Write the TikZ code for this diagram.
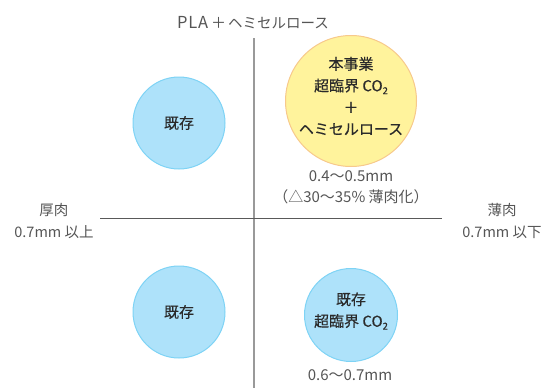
\documentclass[tikz,border=0pt]{standalone}
\usepackage{fontspec}
\setmainfont{Noto Sans CJK JP}
\newfontfamily\cjkm[FakeBold=0.35]{Noto Sans CJK JP}
\newfontfamily\cjkt[LetterSpace=5]{Noto Sans CJK JP}
\definecolor{yfill}{HTML}{FFF39C}
\definecolor{ydraw}{HTML}{F7C98C}
\definecolor{bfill}{HTML}{AEE2FA}
\definecolor{bdraw}{HTML}{7ED3F5}
\definecolor{txt}{HTML}{2A2A2A}
\definecolor{lbl}{HTML}{555555}
\newcommand{\cotwo}{CO\raisebox{-0.35ex}{\fontsize{9.5}{9.5}\selectfont 2}}
\tikzset{
  ybub/.style={circle, fill=yfill, draw=ydraw, line width=1pt, inner sep=0pt},
  bbub/.style={circle, fill=bfill, draw=bdraw, line width=1pt, inner sep=0pt},
  lab/.style={text=lbl, align=center, inner sep=0pt, font=\fontsize{15}{21}\selectfont},
  sidelab/.style={text=lbl, align=center, inner sep=0pt, font=\fontsize{14.5}{22}\selectfont},
  ctext/.style={text=txt, align=center, inner sep=0pt, font=\cjkm\fontsize{15}{21.7}\selectfont},
}
\begin{document}
\begin{tikzpicture}[x=1pt,y=-1pt]
\useasboundingbox (0,0) rectangle (543,388);
% axes
\coordinate (vtop) at (254,38);
\coordinate (vbot) at (254,388);
\coordinate (hl) at (100,218);
\coordinate (hr) at (442,218);
\draw[color=black!40, line width=1.5pt] (vtop) -- (vbot);
\draw[color=black!65, line width=1pt] (hl) -- (hr);
% title
\node[text=lbl, inner sep=0pt, font=\fontsize{15}{18}\selectfont] (title) at (253,23) {{\cjkt\fontsize{16.5}{18}\selectfont PLA}\hspace{3pt}＋\hspace{2pt}{\fontsize{14.5}{18}\selectfont ヘミセルロース}};
% circles
\node[ybub, minimum size=131pt] (yc) at (351,101) {};
\node[ctext] (yt) at (351,96) {本事業\\超臨界 \cotwo\\＋\\ヘミセルロース};
\node[bbub, minimum size=92pt] (tl) at (179,123) {};
\node[ctext] (tlt) at (179,123) {既存};
\node[bbub, minimum size=92pt] (bl) at (179,312) {};
\node[ctext] (blt) at (179,312) {既存};
\node[bbub, minimum size=93pt] (br) at (351,315) {};
\node[ctext] (brt) at (351,311) {既存\\超臨界 \cotwo};
% labels
\node[lab] (y1) at (351,187) {0.4〜0.5mm\\（△30〜35\% 薄肉化）};
\node[lab] (b1) at (350,375) {0.6〜0.7mm};
\node[sidelab] (l1) at (54,221) {厚肉\\0.7mm 以上};
\node[sidelab] (r1) at (502,221) {薄肉\\0.7mm 以下};
\end{tikzpicture}
\end{document}
